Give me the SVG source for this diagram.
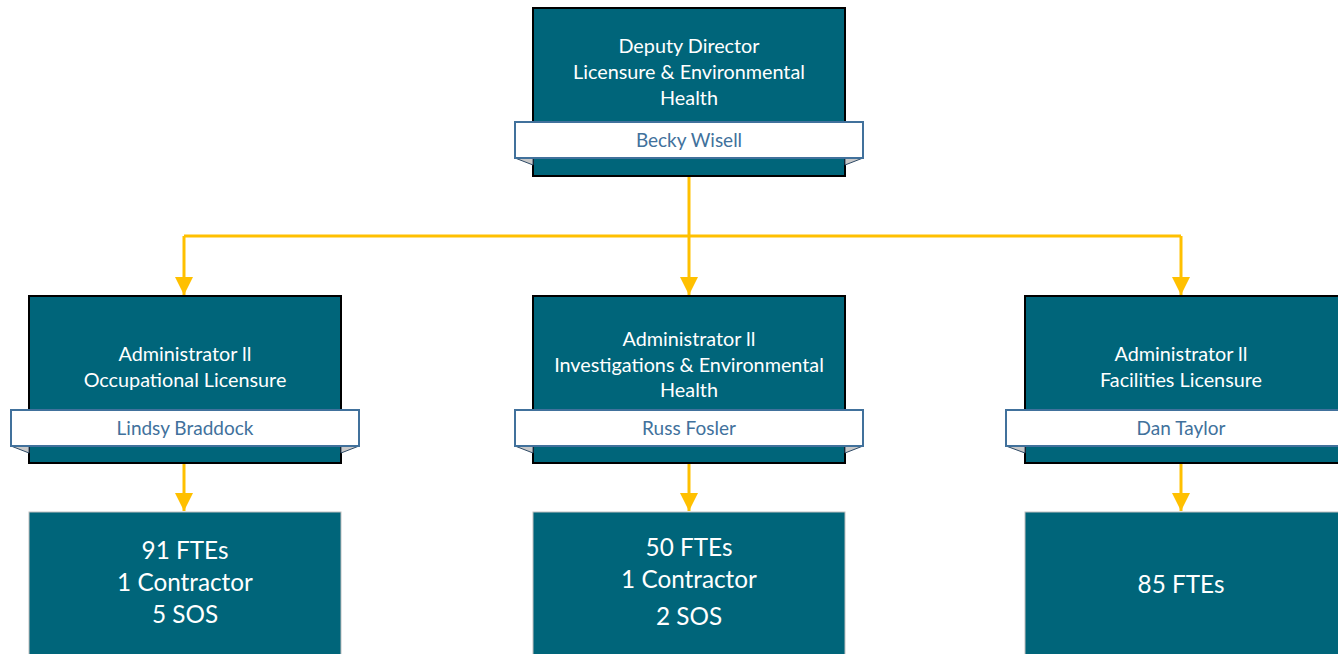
<svg xmlns="http://www.w3.org/2000/svg" width="1338" height="654" viewBox="0 0 1338 654">
<style>
.box{fill:#00657A;stroke:#000;stroke-width:2}
.cnt{fill:#00657A;stroke:#BFBFBF;stroke-width:1}
.band{fill:#fff;stroke:#41719C;stroke-width:2}
.fold{fill:#C8C8C8;stroke:#2E4A66;stroke-width:1}
.t{font-family:Lato,"Liberation Sans",sans-serif;font-size:19.8px;fill:#fff;text-anchor:middle}
.n{font-family:Lato,"Liberation Sans",sans-serif;font-size:19px;fill:#41719C;text-anchor:middle}
.c{font-family:Lato,"Liberation Sans",sans-serif;font-size:24.3px;fill:#fff;text-anchor:middle}
.ln{fill:none;stroke:#FFC000;stroke-width:3}
</style>
<defs>
<marker id="ah" markerWidth="6" markerHeight="6" refX="6" refY="3" orient="auto" markerUnits="strokeWidth">
<path d="M0,0 L6,3 L0,6 Z" fill="#FFC000"/>
</marker>
</defs>
<g id="connectors">
<path class="ln" d="M689,177 V236"/>
<path class="ln" d="M184,236 H1181"/>
<path class="ln" d="M184,236 V295" marker-end="url(#ah)"/>
<path class="ln" d="M689,236 V295" marker-end="url(#ah)"/>
<path class="ln" d="M1181,236 V295" marker-end="url(#ah)"/>
<path class="ln" d="M184,464 V511" marker-end="url(#ah)"/>
<path class="ln" d="M689,464 V511" marker-end="url(#ah)"/>
<path class="ln" d="M1181,464 V511" marker-end="url(#ah)"/>
</g>
<g id="deputy">
<rect class="box" x="533" y="8" width="312" height="168"/>
<polygon class="fold" points="515,158 533,158 533,165"/>
<polygon class="fold" points="863,158 845,158 845,165"/>
<rect class="band" x="515" y="122" width="348" height="36"/>
<text class="t" x="689" y="53">Deputy Director</text>
<text class="t" x="689" y="79">Licensure &amp; Environmental</text>
<text class="t" x="689" y="105">Health</text>
<text class="n" x="689" y="147">Becky Wisell</text>
</g>
<g id="occupational">
<rect class="box" x="29" y="296" width="312" height="167"/>
<polygon class="fold" points="11,446 29,446 29,453"/>
<polygon class="fold" points="359,446 341,446 341,453"/>
<rect class="band" x="11" y="410" width="348" height="36"/>
<text class="t" x="185" y="361">Administrator ll</text>
<text class="t" x="185" y="387">Occupational Licensure</text>
<text class="n" x="185" y="435">Lindsy Braddock</text>
</g>
<g id="investigations">
<rect class="box" x="533" y="296" width="312" height="167"/>
<polygon class="fold" points="515,446 533,446 533,453"/>
<polygon class="fold" points="863,446 845,446 845,453"/>
<rect class="band" x="515" y="410" width="348" height="36"/>
<text class="t" x="689" y="346">Administrator ll</text>
<text class="t" x="689" y="372">Investigations &amp; Environmental</text>
<text class="t" x="689" y="397">Health</text>
<text class="n" x="689" y="435">Russ Fosler</text>
</g>
<g id="facilities">
<rect class="box" x="1025" y="296" width="320" height="167"/>
<polygon class="fold" points="1006,446 1025,446 1025,453"/>
<rect class="band" x="1006" y="410" width="340" height="36"/>
<text class="t" x="1181" y="361">Administrator ll</text>
<text class="t" x="1181" y="387">Facilities Licensure</text>
<text class="n" x="1181" y="435">Dan Taylor</text>
</g>
<g id="occ-staff">
<rect class="cnt" x="29" y="512" width="312" height="150"/>
<text class="c" x="185" y="559">91 FTEs</text>
<text class="c" x="185" y="591">1 Contractor</text>
<text class="c" x="185" y="623">5 SOS</text>
</g>
<g id="inv-staff">
<rect class="cnt" x="533" y="512" width="312" height="150"/>
<text class="c" x="689" y="556">50 FTEs</text>
<text class="c" x="689" y="588">1 Contractor</text>
<text class="c" x="689" y="625">2 SOS</text>
</g>
<g id="fac-staff">
<rect class="cnt" x="1025" y="512" width="320" height="150"/>
<text class="c" x="1181" y="593">85 FTEs</text>
</g>
</svg>
